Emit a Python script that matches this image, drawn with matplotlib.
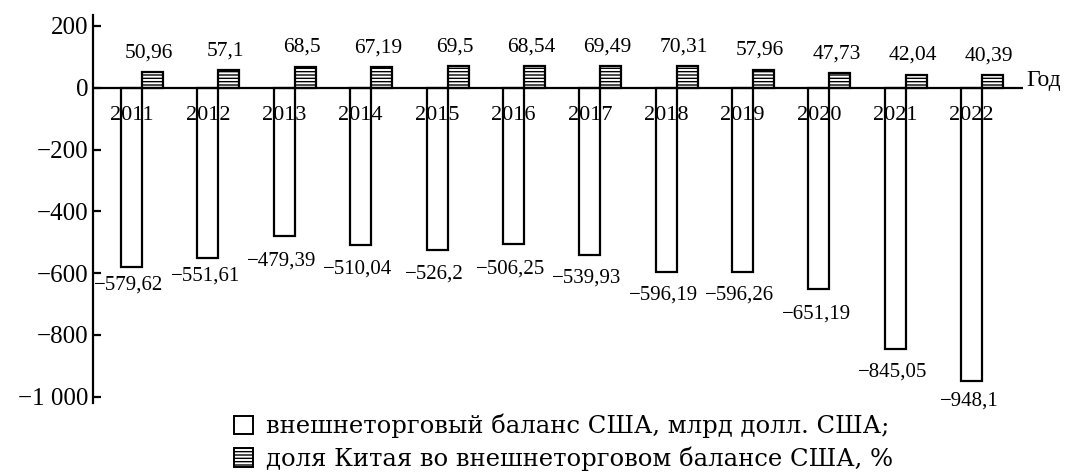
import numpy as np
import matplotlib
matplotlib.use('Agg')
import matplotlib.pyplot as plt
from matplotlib.patches import Patch

plt.rcParams['font.family'] = ['Liberation Serif', 'DejaVu Serif']
plt.rcParams['hatch.linewidth'] = 1.0

# Данные
years = ['2011', '2012', '2013', '2014', '2015', '2016',
         '2017', '2018', '2019', '2020', '2021', '2022']
balance = [-579.62, -551.61, -479.39, -510.04, -526.2, -506.25,
           -539.93, -596.19, -596.26, -651.19, -845.05, -948.1]
china_share = [50.96, 57.1, 68.5, 67.19, 69.5, 68.54,
               69.49, 70.31, 57.96, 47.73, 42.04, 40.39]
balance_labels = ['−579,62', '−551,61', '−479,39', '−510,04', '−526,2', '−506,25',
                  '−539,93', '−596,19', '−596,26', '−651,19', '−845,05', '−948,1']
share_labels = ['50,96', '57,1', '68,5', '67,19', '69,5', '68,54',
                '69,49', '70,31', '57,96', '47,73', '42,04', '40,39']
y_ticks = [200, 0, -200, -400, -600, -800, -1000]
y_tick_labels = ['200', '0', '−200', '−400', '−600', '−800', '−1 000']

# отступы подписей под столбцами (в пунктах)
label_gap = [6, 6, 11, 10, 10, 11, 10, 10, 10, 11, 10, 8]

fig = plt.figure(figsize=(10.65, 4.76), dpi=100)
ax = fig.add_axes([0.0873, 0.1534, 0.873, 0.815])

x = np.arange(len(years))
w = 0.275

# Столбцы
bars_neg = ax.bar(x - w / 2, balance, width=w, color='white', edgecolor='black', linewidth=1.6, zorder=2)
bars_pos = ax.bar(x + w / 2, china_share, width=w, color='white', edgecolor='black', linewidth=1.6,
                  hatch='-----', zorder=2)

# Подписи значений
for b, lab, g in zip(bars_neg, balance_labels, label_gap):
    ax.annotate(lab, (b.get_x() + b.get_width() / 2, b.get_height()),
                xytext=(-2, -g), textcoords='offset points', ha='center', va='top', fontsize=15)
for b, lab in zip(bars_pos, share_labels):
    ax.annotate(lab, (b.get_x() + b.get_width() / 2, b.get_height()),
                xytext=(-2.5, 7), textcoords='offset points', ha='center', va='bottom', fontsize=15.5)

# Годы
for b, yr in zip(bars_neg, years):
    ax.text(b.get_x() + b.get_width() / 2, -90, yr, ha='center', va='center', fontsize=16, zorder=3)

ax.axhline(0, color='black', linewidth=1.6, zorder=3)
ax.text(11.58, 22, 'Год', ha='left', va='center', fontsize=17, clip_on=False)

ax.set_xlim(-0.642, 11.53)
ax.set_ylim(-1020, 235)
ax.set_yticks(y_ticks)
ax.set_yticklabels(y_tick_labels, fontsize=18)
ax.set_xticks([])
for s in ['top', 'right', 'bottom']:
    ax.spines[s].set_visible(False)
ax.spines['left'].set_linewidth(1.6)
ax.tick_params(axis='y', direction='in', length=6, width=1.6, pad=3)

# Легенда
handles = [Patch(facecolor='white', edgecolor='black', linewidth=1.4),
           Patch(facecolor='white', edgecolor='black', linewidth=1.4, hatch='-----')]
labels = ['внешнеторговый баланс США, млрд долл. США;',
          'доля Китая во внешнеторговом балансе США, %']
fig.legend(handles, labels, loc='upper left', bbox_to_anchor=(234 / 1065, 1 - 414 / 476),
           frameon=False, prop={'family': 'DejaVu Serif', 'size': 17.5},
           handlelength=0.8, handleheight=0.8,
           handletextpad=0.5, labelspacing=0.33, borderpad=0, borderaxespad=0)

plt.savefig('out.png', dpi=100)
